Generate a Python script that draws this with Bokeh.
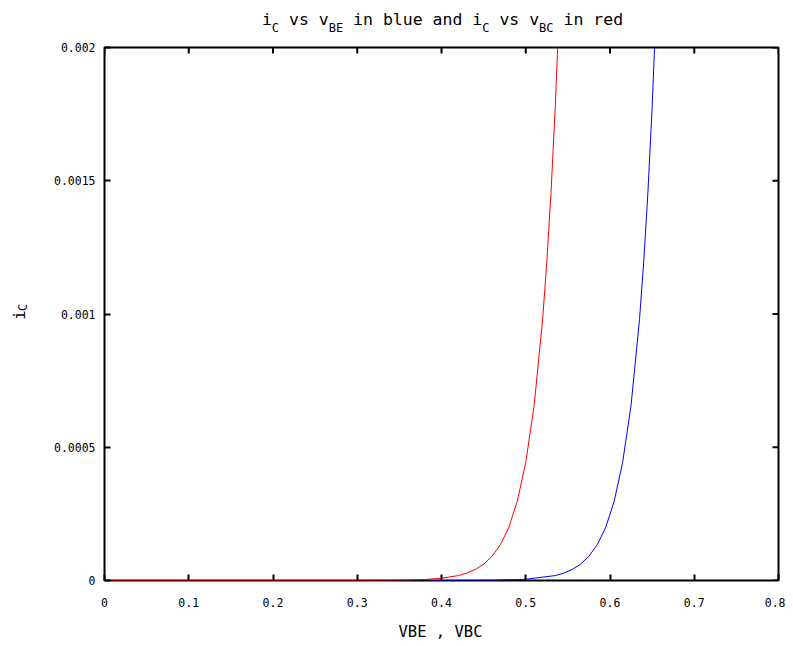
import math
from bokeh.plotting import figure
from bokeh.models import Range1d, LinearAxis, FixedTicker, Label
from bokeh.layouts import column, row
from bokeh.embed import file_html
from bokeh.resources import INLINE

# ---- data ----
red_v = [0.0, 0.20, 0.30, 0.35, 0.38, 0.40, 0.42, 0.43, 0.44, 0.45, 0.46, 0.47,
         0.48, 0.49, 0.50, 0.51, 0.52, 0.525, 0.53, 0.535, 0.54]
red_i = [0.0, 0.0, 1.6e-7, 1.15e-6, 3.8e-6, 8.4e-6, 1.85e-5, 2.75e-5, 4.1e-5, 6.1e-5,
         9.1e-5, 1.35e-4, 2.0e-4, 2.98e-4, 4.43e-4, 6.58e-4, 9.79e-4, 1.194e-3,
         1.456e-3, 1.776e-3, 2.165e-3]

blue_v = [0.385, 0.42, 0.46, 0.50, 0.535, 0.545, 0.555, 0.565, 0.575, 0.585, 0.595,
          0.605, 0.615, 0.625, 0.635, 0.64, 0.645, 0.65, 0.655]
blue_i = [4.8e-8, 1.9e-7, 9.4e-7, 4.6e-6, 1.85e-5, 2.75e-5, 4.1e-5, 6.1e-5, 9.1e-5,
          1.35e-4, 2.0e-4, 2.98e-4, 4.43e-4, 6.58e-4, 9.79e-4, 1.194e-3, 1.456e-3,
          1.776e-3, 2.165e-3]

x_ticks = [0, 0.1, 0.2, 0.3, 0.4, 0.5, 0.6, 0.7, 0.8]
x_tick_labels = ["0", "0.1", "0.2", "0.3", "0.4", "0.5", "0.6", "0.7", "0.8"]
y_ticks = [0, 0.0005, 0.001, 0.0015, 0.002]
y_tick_labels = ["0", "0.0005", "0.001", "0.0015", "0.002"]

title_parts = [("i", False), ("C", True), (" vs v", False), ("BE", True),
               (" in blue and i", False), ("C", True), (" vs v", False), ("BC", True),
               (" in red", False)]
xlabel_parts = [("VBE , VBC", False)]
ylabel_parts = [("i", False), ("C", True)]

X_MIN, X_MAX = 0, 0.8
Y_MIN, Y_MAX = 0, 0.002

MONO = "DejaVu Sans Mono"
ADV = 0.602  # advance of the monospace font, in em

# ---- layout geometry (pixels) ----
W = 785
TITLE_H = 40
YLAB_W = 40
MAIN_W, MAIN_H = W - YLAB_W, 574
XLAB_H = 32
FL, FR, FT, FB = 64, 7, 7, 34   # main figure borders -> frame 674 x 533


def text_panel(w, h):
    f = figure(width=w, height=h, output_backend="svg", toolbar_location=None,
               x_range=Range1d(0, w), y_range=Range1d(0, h),
               min_border=0, x_axis_location=None, y_axis_location=None)
    f.grid.visible = False
    f.outline_line_color = None
    f.background_fill_color = "white"
    f.border_fill_color = "white"
    return f


def run_width(parts, main, sub):
    return sum(len(t) * ADV * (sub if s else main) for t, s in parts)


def add_run(f, parts, start, cross, main, sub, sub_shift, vertical):
    pos = start
    for txt, is_sub in parts:
        size = sub if is_sub else main
        adv = ADV * size
        lead = len(txt) - len(txt.lstrip(" "))
        body = txt.strip(" ")
        at = pos + lead * adv
        if vertical:
            f.add_layout(Label(x=cross + (sub_shift if is_sub else 0), y=at, text=body,
                               text_font=MONO, text_font_size=f"{size}px",
                               text_baseline="middle", text_align="left",
                               text_color="black", angle=math.pi / 2))
        else:
            f.add_layout(Label(x=at, y=cross - (sub_shift if is_sub else 0), text=body,
                               text_font=MONO, text_font_size=f"{size}px",
                               text_baseline="middle", text_align="left",
                               text_color="black"))
        pos += len(txt) * adv


# ---- title ----
tf = text_panel(W, TITLE_H)
T_MAIN, T_SUB = 16.5, 12
tw = run_width(title_parts, T_MAIN, T_SUB)
add_run(tf, title_parts, 442 - tw / 2, TITLE_H - 19, T_MAIN, T_SUB, 8, False)

# ---- y label ----
yf = text_panel(YLAB_W, MAIN_H)
yw = run_width(ylabel_parts, 16, 12)
add_run(yf, ylabel_parts, (TITLE_H + MAIN_H) - 325 - yw / 2, 19, 16, 12, 3, True)

# ---- x label ----
xf = text_panel(W, XLAB_H)
xw = run_width(xlabel_parts, 15.5, 12)
add_run(xf, xlabel_parts, 440 - xw / 2, (TITLE_H + MAIN_H + XLAB_H) - 631, 15.5, 12, 0, False)

# ---- main plot ----
p = figure(width=MAIN_W, height=MAIN_H, output_backend="svg", toolbar_location=None,
           x_range=Range1d(X_MIN, X_MAX), y_range=Range1d(Y_MIN, Y_MAX),
           min_border_left=FL, min_border_right=FR, min_border_top=FT,
           min_border_bottom=FB, x_axis_location=None, y_axis_location=None)
p.grid.visible = False
p.outline_line_color = "black"
p.outline_line_width = 2
p.background_fill_color = "white"
p.border_fill_color = "white"


def mk_axis(ticks, labels, standoff):
    ax = LinearAxis(ticker=FixedTicker(ticks=ticks))
    ax.major_label_overrides = {t: l for t, l in zip(ticks, labels)}
    ax.axis_line_color = None
    ax.major_tick_in = 6
    ax.major_tick_out = 0
    ax.major_tick_line_width = 2
    ax.major_tick_line_color = "black"
    ax.minor_tick_line_color = None
    ax.major_label_text_font = MONO
    ax.major_label_text_color = "black"
    ax.major_label_standoff = standoff
    ax.major_label_text_font_size = "11.5px"
    return ax


p.add_layout(mk_axis(x_ticks, x_tick_labels, 17), "below")
p.add_layout(mk_axis(y_ticks, y_tick_labels, 9), "left")

# mirrored inward ticks on the top and right edges (half of each dash is clipped by the frame)
p.scatter(x_ticks, [Y_MAX] * len(x_ticks), marker="dash", size=12, angle=math.pi / 2,
          line_color="black", line_width=2)
p.scatter([X_MAX] * len(y_ticks), y_ticks, marker="dash", size=12,
          line_color="black", line_width=2)

p.line(red_v, red_i, line_color="#ff0000", line_width=1)
p.line(blue_v, blue_i, line_color="#0000ff", line_width=1)

layout = column(tf, row(yf, p, spacing=0), xf, spacing=0)

open("out.html", "w").write(file_html(layout, INLINE))
